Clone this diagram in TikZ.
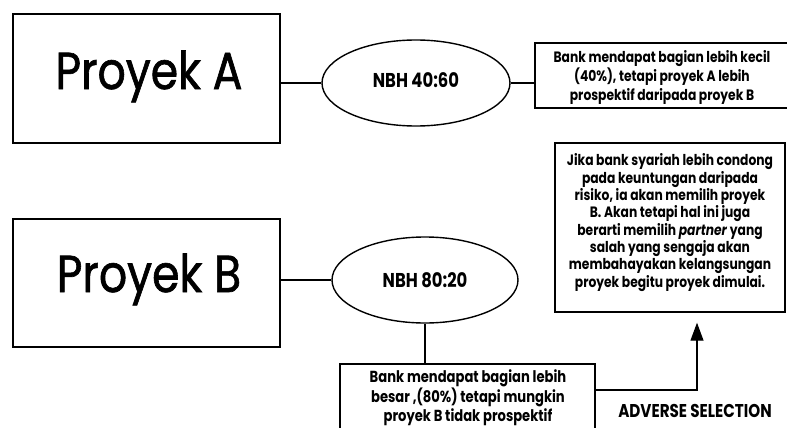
\documentclass[tikz,border=0pt]{standalone}
\usepackage{fontspec}
\setmainfont{Poppins}
\newfontfamily\fut[FakeStretch=0.82]{Poppins}
\newfontfamily\futbig[FakeStretch=0.85,FakeBold=1.2]{Poppins}
\usetikzlibrary{shapes.geometric,arrows.meta}
\begin{document}
\begin{tikzpicture}[x=1pt,y=-1pt,
  box/.style={draw, line width=1.4pt, inner sep=0pt},
  oval/.style={draw, ellipse, line width=1.4pt, inner sep=0pt},
  conn/.style={line width=1.2pt},
  big/.style={font=\futbig\fontsize{52}{60}\selectfont, anchor=base, inner sep=0pt},
  mid/.style={font=\fut\bfseries\fontsize{20}{24}\selectfont, anchor=base, inner sep=0pt},
  small/.style={font=\fut\bfseries\fontsize{15}{19}\selectfont, align=center, anchor=base, inner sep=0pt},
  smallj/.style={font=\fut\bfseries\fontsize{15}{17.3}\selectfont, align=center, anchor=base, inner sep=0pt}
]
\useasboundingbox (0,0) rectangle (787,428);
\clip (0,0) rectangle (787,428);
% Proyek A row
\node[box, minimum width=267pt, minimum height=129pt] (boxA) at (146.5,78.5) {};
\node[big] (tA) at (149,89) {Proyek A};
\node[oval, minimum width=188pt, minimum height=86pt] (ellA) at (416,83) {};
\node[mid] (nA) at (416,87) {NBH 40:60};
\node[box, minimum width=260pt, minimum height=65pt] (boxR) at (665,75.5) {};
\node[small] (tR) at (662,100) {Bank mendapat bagian lebih kecil\\(40\%), tetapi proyek A lebih\\prospektif daripada proyek B};
\draw[conn] (boxA.east |- ellA.west) -- (ellA.west);
\draw[conn] (ellA.east) -- (ellA.east -| boxR.west);
% Jika box
\node[box, minimum width=230pt, minimum height=169pt] (boxJ) at (670,227.5) {};
\node[smallj] (tJ) at (670,287) {Jika bank syariah lebih condong\\pada keuntungan daripada\\risiko, ia akan memilih proyek\\B. Akan tetapi hal ini juga\\berarti memilih \textit{partner} yang\\salah yang sengaja akan\\membahayakan kelangsungan\\proyek begitu proyek dimulai.};
% Proyek B row
\node[box, minimum width=267pt, minimum height=128pt] (boxB) at (146.5,283) {};
\node[big] (tB) at (149,292) {Proyek B};
\node[oval, minimum width=186pt, minimum height=86pt] (ellB) at (425,280) {};
\node[mid] (nB) at (425,287) {NBH 80:20};
\draw[conn] (boxB.east |- ellB.west) -- (ellB.west);
% bottom box
\node[box, minimum width=255pt, minimum height=80pt] (boxD) at (467.5,404) {};
\node[small, font=\fut\bfseries\fontsize{16}{18.5}\selectfont] (tD) at (468,421) {Bank mendapat bagian lebih\\besar ,(80\%) tetapi mungkin\\proyek B tidak prospektif};
\draw[conn] (ellB.south) -- (ellB.south |- boxD.north);
% adverse selection arrow
\draw[conn, -{Triangle[length=18pt,width=13pt]}] ([yshift=14pt]boxD.east) -| ([xshift=27pt,yshift=-10pt]boxJ.south);
\node[font=\fut\bfseries\fontsize{18.5}{22}\selectfont, anchor=base, inner sep=0pt] (adv) at (695,417) {ADVERSE SELECTION};
\end{tikzpicture}
\end{document}
